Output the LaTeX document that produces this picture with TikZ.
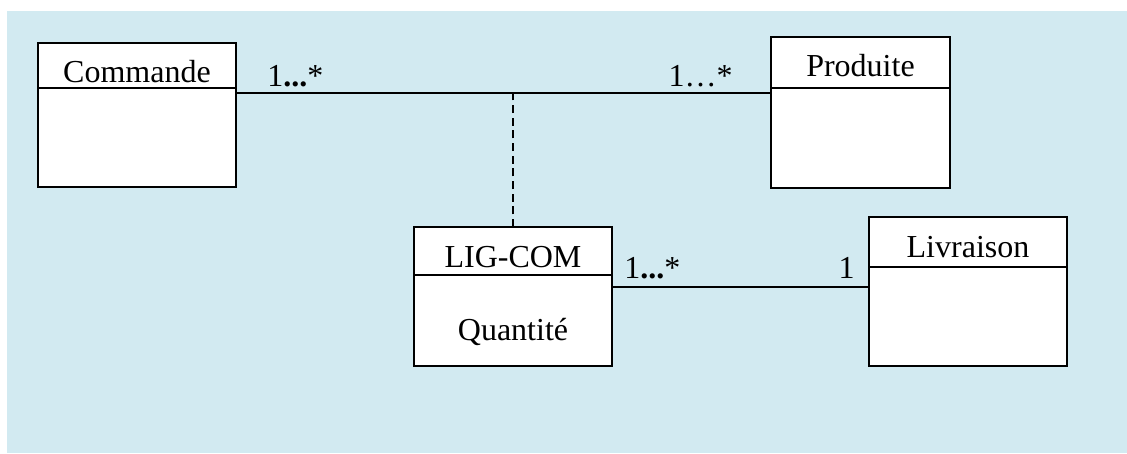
\documentclass[tikz,border=0pt]{standalone}
\usepackage{fontspec}
\setmainfont{Liberation Serif}
\usetikzlibrary{positioning}
\definecolor{bgblue}{HTML}{D2EAF1}

\begin{document}
\begin{tikzpicture}[
    x=0.75pt, y=-0.75pt,
    font=\fontsize{24}{28}\selectfont,
    head/.style={draw, fill=white, line width=1.2pt, inner sep=0pt, outer sep=0pt, text height=30pt},
    body/.style={draw, fill=white, line width=1.2pt, inner sep=0pt, outer sep=0pt},
    mult/.style={inner sep=0pt}
]

\useasboundingbox (0,0) rectangle (1127,453);
\fill[bgblue] (7,11) rectangle (1127,453);

% classes
\node (CmdHead) at (38,43) [head, anchor=north west, minimum width=148.5pt, text depth=3.75pt] {Commande};
\node (CmdBody) [below=0pt of CmdHead, body, minimum width=148.5pt, minimum height=74.25pt] {};

\node (PrdHead) at (771,37) [head, anchor=north west, minimum width=134.25pt, text depth=8.25pt] {Produite};
\node (PrdBody) [below=0pt of PrdHead, body, minimum width=134.25pt, minimum height=75pt] {};

\node (LigHead) at (414,227) [head, anchor=north west, minimum width=148.5pt, text depth=6pt] {LIG-COM};
\node (LigBody) [below=0pt of LigHead, body, minimum width=148.5pt, text height=48.75pt, text depth=19.5pt] {Quantité};

\node (LivHead) at (869,217) [head, anchor=north west, minimum width=148.5pt, text depth=7.5pt] {Livraison};
\node (LivBody) [below=0pt of LivHead, body, minimum width=148.5pt, minimum height=74.25pt] {};

% associations
\draw[line width=1pt] ([yshift=-3.75pt]CmdBody.north east) coordinate (A1) -- (A1 -| PrdBody.west);
\draw[line width=1pt, dash pattern=on 6pt off 3.5pt] (LigHead.north) -- (LigHead.north |- A1);
\draw[line width=1pt] ([yshift=-9pt]LigBody.north east) coordinate (A2) -- (A2 -| LivBody.west);

% multiplicities
\node (MCmd) at (267,87) [mult, anchor=base west] {1\textbf{...}*};
\node (MPrd) at (733,87) [mult, anchor=base east] {1…*};
\node (MLig) at (624,278) [mult, anchor=base west] {1\textbf{...}*};
\node (MLiv) at (855,278) [mult, anchor=base east] {1};

\end{tikzpicture}
\end{document}
